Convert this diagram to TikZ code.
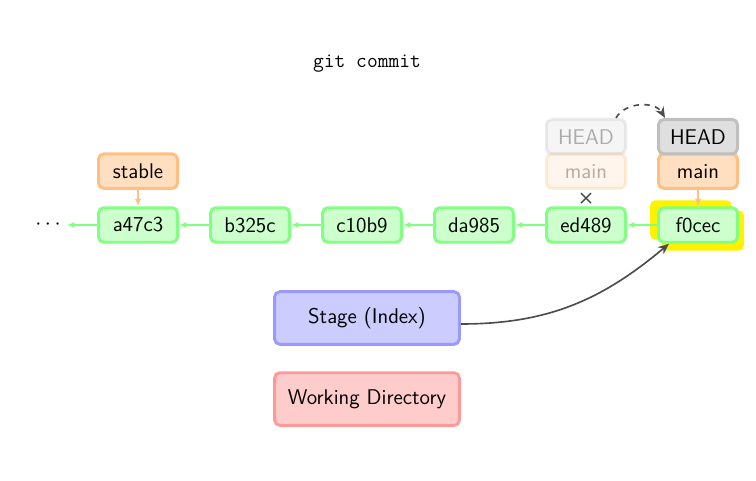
\documentclass[tikz,border=0pt]{standalone}
\usetikzlibrary{arrows.meta, positioning, calc, backgrounds}
\tikzset{
    commit/.style={draw=green!50, fill=green!20, line width=1.6pt, rounded corners=3pt, minimum width=43.5pt, minimum height=19pt, inner sep=0pt, font=\sffamily\fontsize{11.7}{14}\selectfont},
    branch/.style={commit, draw=orange!50, fill=orange!25},
    headbox/.style={commit, draw=gray!50, fill=gray!25},
    area/.style={commit, minimum width=101.7pt, minimum height=29pt},
    parent/.style={-{Latex[length=4pt,width=3.5pt]}, green!50, line width=0.8pt},
    pointer/.style={-{Latex[length=4pt,width=3.5pt]}, orange!50, line width=0.8pt},
    move/.style={-{Stealth[length=6pt,width=5pt]}, black!70, line width=0.9pt},
    faded/.style={opacity=0.3}
}

\begin{document}
\begin{tikzpicture}[x=0.55pt, y=0.55pt, node distance=16.5pt]
        \useasboundingbox (0,0) rectangle (756,481);
        \node [font=\ttfamily\fontsize{11.5}{14}\selectfont] (title) at (367,417) {git commit};
        % history
        \node [commit] (a47c3) at (138,256) {a47c3};
        \node [commit, right=of a47c3] (b325c) {b325c};
        \node [commit, right=of b325c] (c10b9) {c10b9};
        \node [commit, right=of c10b9] (da985) {da985};
        \node [commit, right=of da985] (ed489) {ed489};
        \node [commit, right=of ed489] (f0cec) {f0cec};
        \node [font=\fontsize{11.5}{14}\selectfont] (older) at (48,256) {$\cdots$};
        \draw [parent] (a47c3) -- (older);
        \draw [parent] (b325c) -- (a47c3);
        \draw [parent] (c10b9) -- (b325c);
        \draw [parent] (da985) -- (c10b9);
        \draw [parent] (ed489) -- (da985);
        \draw [parent] (f0cec) -- (ed489);
        \begin{scope}[on background layer]
            \fill [yellow, rounded corners=3pt] ($(f0cec.north west)+(-7,6)$) rectangle ($(f0cec.south east)+(-7,4)$);
            \fill [yellow, rounded corners=3pt] ($(f0cec.north west)+(5,-4)$) rectangle ($(f0cec.south east)+(5,-7)$);
        \end{scope}
        % refs
        \node [branch, above=9pt of a47c3] (stable) {stable};
        \draw [pointer] (stable) -- (a47c3);
        \node [branch, faded, above=9pt of ed489] (oldmain) {main};
        \node [headbox, faded, above=-1.6pt of oldmain] (oldhead) {HEAD};
        \node [branch, above=9pt of f0cec] (main) {main};
        \node [headbox, above=-1.6pt of main] (head) {HEAD};
        \draw [pointer] (main) -- (f0cec);
        \coordinate (cut) at ($(oldmain.south)!0.5!(ed489.north)$);
        \draw [black!70, line width=0.8pt] ($(cut)+(-5,-5)$) -- ($(cut)+(5,5)$);
        \draw [black!70, line width=0.8pt] ($(cut)+(-5,5)$) -- ($(cut)+(5,-5)$);
        \draw [move, dashed] ($(oldhead.north east)+(-11,0)$) to[bend left=60] ($(head.north west)+(8,0)$);
        % areas
        \node [area, draw=blue!40, fill=blue!20] (stage) at (367,163) {Stage (Index)};
        \node [area, draw=red!40, fill=red!20, below=14pt of stage] (workdir) {Working Directory};
        \draw [move] ($(stage.east)+(0,-6)$) to[out=0, in=-140] ($(f0cec.south west)+(12,0)$);
    \end{tikzpicture}
\end{document}
